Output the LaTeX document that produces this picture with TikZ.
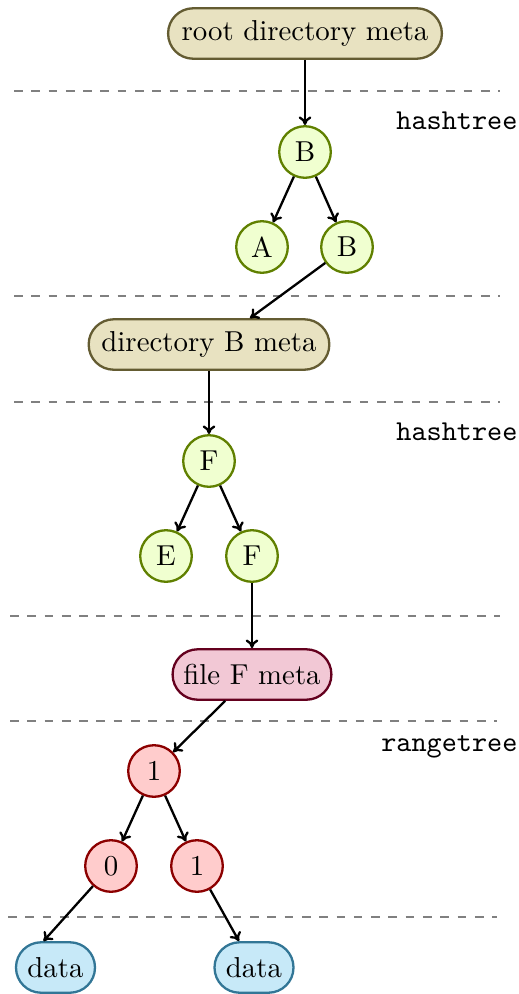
\documentclass[tikz,border=0pt]{standalone}
\usetikzlibrary{calc,arrows.meta}
\definecolor{metafill}{RGB}{232,226,193}
\definecolor{metadraw}{RGB}{100,92,50}
\definecolor{hashfill}{RGB}{240,255,208}
\definecolor{hashdraw}{RGB}{96,128,0}
\definecolor{filefill}{RGB}{242,200,213}
\definecolor{filedraw}{RGB}{100,0,30}
\definecolor{rangefill}{RGB}{255,204,204}
\definecolor{rangedraw}{RGB}{140,0,0}
\definecolor{datafill}{RGB}{199,233,248}
\definecolor{datadraw}{RGB}{50,118,150}
\begin{document}
\begin{tikzpicture}[x=0.347pt,y=-0.347pt,
  pill/.style={rectangle, rounded corners=8.7pt, thick, minimum height=17.5pt, inner xsep=0pt, inner ysep=0pt},
  metabox/.style={pill, fill=metafill, draw=metadraw},
  filebox/.style={pill, fill=filefill, draw=filedraw},
  databox/.style={pill, fill=datafill, draw=datadraw, minimum width=27.4pt},
  hnode/.style={circle, thick, fill=hashfill, draw=hashdraw, minimum size=17.9pt, inner sep=0pt},
  rnode/.style={circle, thick, fill=rangefill, draw=rangedraw, minimum size=17.9pt, inner sep=0pt},
  sep/.style={dashed, thick, gray},
  lbl/.style={font=\ttfamily, anchor=east, inner sep=0pt},
  conn/.style={-{Computer Modern Rightarrow[length=3pt,width=4.4pt]}, thick}]
\useasboundingbox (0,0) rectangle (519,994);
% separators
\draw[sep] (14,91) -- (500,91);
\draw[sep] (14,296) -- (500,296);
\draw[sep] (14,402) -- (500,402);
\draw[sep] (10,616) -- (500,616);
\draw[sep] (10,721) -- (497,721);
\draw[sep] (8,917) -- (497,917);
% labels
\node[lbl] (l1) at (518,121) {hashtree};
\node[lbl] (l2) at (518,432) {hashtree};
\node[lbl] (l3) at (518,747) {rangetree};
% nodes
\node[metabox, minimum width=95pt] (root) at (305,33.5) {root directory meta};
\node[hnode] (hb) at (305,152) {B};
\node[hnode] (ha) at (262,247) {A};
\node[hnode] (hb2) at (347,247) {B};
\node[metabox, minimum width=83.5pt] (dirb) at (209,344.5) {directory B meta};
\node[hnode] (hf) at (209,461) {F};
\node[hnode] (he) at (166,556) {E};
\node[hnode] (hf2) at (252,556) {F};
\node[filebox, minimum width=55.1pt] (filef) at (252,674.5) {file F meta};
\node[rnode] (r1) at (154,771) {1};
\node[rnode] (r0) at (111,866) {0};
\node[rnode] (r12) at (197,866) {1};
\node[databox] (d1) at (55.5,967.5) {data};
\node[databox] (d2) at (254,967.5) {data};
% connectors
\draw[conn] (root) -- (hb);
\draw[conn] (hb) -- (ha);
\draw[conn] (hb) -- (hb2);
\draw[conn] (hb2) -- ($(dirb.north)+(41,0)$);
\draw[conn] (dirb) -- (hf);
\draw[conn] (hf) -- (he);
\draw[conn] (hf) -- (hf2);
\draw[conn] (hf2) -- (filef);
\draw[conn] (filef) -- (r1);
\draw[conn] (r1) -- (r0);
\draw[conn] (r1) -- (r12);
\draw[conn] (r0) -- ($(d1.north)+(-12,0)$);
\draw[conn] (r12) -- ($(d2.north)+(-15,0)$);
\end{tikzpicture}
\end{document}
